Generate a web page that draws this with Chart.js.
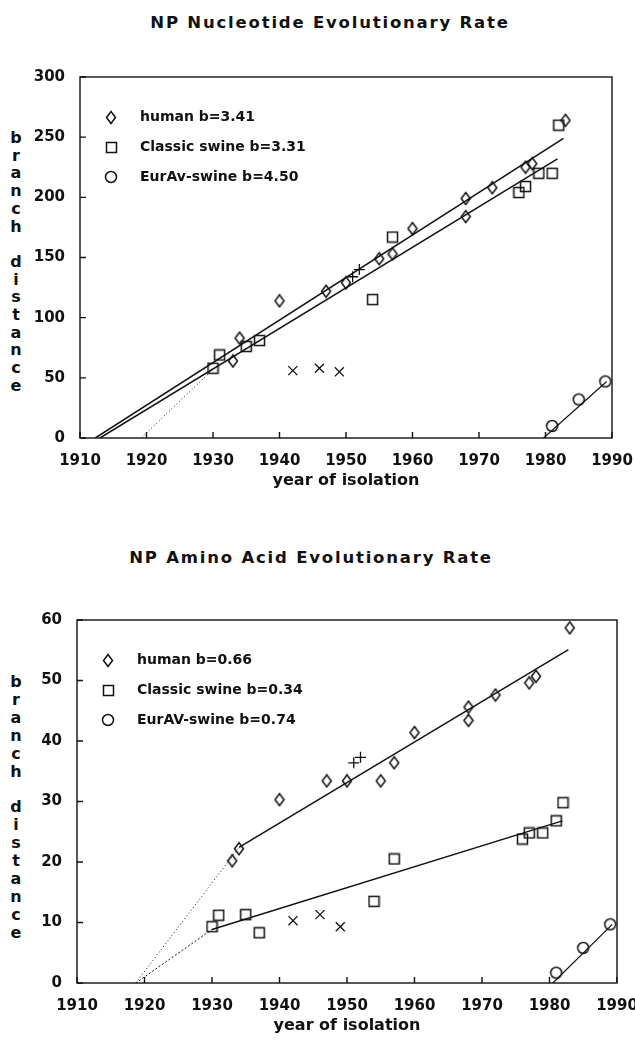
<!DOCTYPE html>
<html>
<head>
<meta charset="utf-8">
<script src="https://cdn.jsdelivr.net/npm/chart.js@4.4.1/dist/chart.umd.min.js"></script>
<style>
  html, body { margin: 0; padding: 0; background: #fff; }
  body { width: 635px; height: 1040px; position: relative; overflow: hidden; font-family: "DejaVu Sans", sans-serif; color: #111; }
  .box { position: absolute; left: 0; width: 635px; height: 520px; }
  .title { position: absolute; font-size: 16.5px; font-weight: bold; letter-spacing: 1.8px; white-space: nowrap; transform: translate(-50%, -50%); }
  .ylab { position: absolute; width: 20px; text-align: center; font-weight: bold; font-size: 16px; }
</style>
</head>
<body>

<div class="title" style="left:330px; top:22px">NP Nucleotide Evolutionary Rate</div>
<div class="ylab" style="left:6px; top:129px; line-height:17.7px">b<br>r<br>a<br>n<br>c<br>h<br>&nbsp;<br>d<br>i<br>s<br>t<br>a<br>n<br>c<br>e</div>
<div class="box" style="top:0"><canvas id="ntChart" width="635" height="520"></canvas></div>

<div class="title" style="left:311px; top:557px">NP Amino Acid Evolutionary Rate</div>
<div class="ylab" style="left:6px; top:673px; line-height:17.9px">b<br>r<br>a<br>n<br>c<br>h<br>&nbsp;<br>d<br>i<br>s<br>t<br>a<br>n<br>c<br>e</div>
<div class="box" style="top:520px"><canvas id="aaChart" width="635" height="520"></canvas></div>

<script>
/* -----------------------------
   NUCLEOTIDE DATA (top chart)
----------------------------- */
const ntHumanYear = [1933, 1934, 1940, 1947, 1950, 1955, 1957, 1960, 1968, 1968, 1972, 1977, 1978, 1983];
const ntHumanDist = [64, 83, 114, 122, 129, 149, 153, 174, 199, 184, 208, 225, 228, 264];
const ntSwineYear = [1930, 1931, 1935, 1937, 1954, 1957, 1976, 1977, 1979, 1981, 1982];
const ntSwineDist = [58, 69, 76, 81, 115, 167, 204, 209, 220, 220, 260];
const ntEurYear = [1981, 1985, 1989];
const ntEurDist = [10, 32, 47];
const ntCrossYear = [1942, 1946, 1949];
const ntCrossDist = [56, 58, 55];
const ntPlusYear = [1951, 1952];
const ntPlusDist = [134, 140];

// fitted lines, end points
const ntHumanFitYear = [1912.3, 1982.7];
const ntHumanFitDist = [0, 249];
const ntSwineFitYear = [1913, 1981.8];
const ntSwineFitDist = [0, 232];
const ntExtFitYear = [1919.2, 1930];
const ntExtFitDist = [0, 57];
const ntEurFitYear = [1979.7, 1989.2];
const ntEurFitDist = [0, 47];

const ntLabels = ["human b=3.41", "Classic swine b=3.31", "EurAv-swine b=4.50"];
const ntYTicks = [0, 300, 50];

/* -----------------------------
   AMINO ACID DATA (bottom chart)
----------------------------- */
const aaHumanYear = [1933, 1934, 1940, 1947, 1950, 1955, 1957, 1960, 1968, 1968, 1972, 1977, 1978, 1983];
const aaHumanDist = [20.2, 22.2, 30.3, 33.4, 33.4, 33.4, 36.4, 41.4, 45.6, 43.4, 47.6, 49.6, 50.7, 58.7];
const aaSwineYear = [1930, 1931, 1935, 1937, 1954, 1957, 1976, 1977, 1979, 1981, 1982];
const aaSwineDist = [9.3, 11.2, 11.3, 8.3, 13.5, 20.5, 23.8, 24.8, 24.8, 26.8, 29.8];
const aaEurYear = [1981, 1985, 1989];
const aaEurDist = [1.7, 5.8, 9.7];
const aaCrossYear = [1942, 1946, 1949];
const aaCrossDist = [10.3, 11.3, 9.3];
const aaPlusYear = [1951, 1952];
const aaPlusDist = [36.4, 37.3];

const aaHumanFitYear = [1934, 1982.8];
const aaHumanFitDist = [22.4, 55.1];
const aaHumanExtYear = [1918.7, 1934];
const aaHumanExtDist = [0, 22.4];
const aaSwineFitYear = [1930, 1981.9];
const aaSwineFitDist = [8.85, 26.8];
const aaSwineExtYear = [1918.7, 1930];
const aaSwineExtDist = [0, 8.85];
const aaEurFitYear = [1980.5, 1989.3];
const aaEurFitDist = [0, 9.7];

const aaLabels = ["human b=0.66", "Classic swine b=0.34", "EurAV-swine b=0.74"];
const aaYTicks = [0, 60, 10];

const xTicks = [1910, 1990, 10];

/* -----------------------------
   MARKERS
----------------------------- */
const INK = "#111";

function marker(w, h, draw) {
  const c = document.createElement("canvas");
  c.width = w; c.height = h;
  const g = c.getContext("2d");
  g.strokeStyle = INK;
  g.lineWidth = 1.5;
  g.beginPath();
  draw(g);
  g.stroke();
  return c;
}

const diamond = marker(12, 15, g => {
  g.moveTo(6, 1.5); g.lineTo(10.5, 7.5); g.lineTo(6, 13.5); g.lineTo(1.5, 7.5); g.closePath();
});
const square = marker(13, 13, g => g.rect(1.5, 1.5, 10, 10));
const circle = marker(14, 14, g => g.arc(7, 7, 5.5, 0, Math.PI * 2));

const pts = (xs, ys) => xs.map((x, i) => ({ x, y: ys[i] }));

function points(xs, ys, style, label) {
  return {
    label: label || "",
    data: pts(xs, ys),
    pointStyle: style,
    pointRadius: style === "crossRot" ? 6.4 : 5.5,
    borderColor: INK,
    borderWidth: 1.3,
    backgroundColor: "transparent",
    showLine: false
  };
}

function fit(xs, ys, dash, width) {
  return {
    data: pts(xs, ys),
    showLine: true,
    pointRadius: 0,
    borderColor: INK,
    borderWidth: width || 1.5,
    borderDash: dash || [],
    fill: false
  };
}

/* -----------------------------
   FRAME, INWARD TICKS, LEGEND
----------------------------- */
const framePlugin = {
  id: "frame",
  afterDatasetsDraw(chart) {
    const { ctx, chartArea: a, scales: { x, y } } = chart;
    ctx.save();
    ctx.strokeStyle = INK;
    ctx.lineWidth = 1.4;
    ctx.strokeRect(a.left, a.top, a.right - a.left, a.bottom - a.top);
    ctx.beginPath();
    x.ticks.forEach(t => {
      const px = x.getPixelForValue(t.value);
      ctx.moveTo(px, a.bottom); ctx.lineTo(px, a.bottom - 6);
    });
    y.ticks.forEach(t => {
      const py = y.getPixelForValue(t.value);
      ctx.moveTo(a.left, py); ctx.lineTo(a.left + 6, py);
    });
    ctx.stroke();

    // legend inside the plot, upper left
    ctx.fillStyle = INK;
    ctx.font = "bold 14px 'DejaVu Sans'";
    ctx.textBaseline = "middle";
    chart.data.datasets.slice(0, 3).forEach((ds, i) => {
      const cy = Math.round(a.top + 40 + i * 30);
      const m = ds.pointStyle;
      ctx.drawImage(m, Math.round(a.left + 31 - m.width / 2), Math.round(cy - m.height / 2));
      ctx.fillText(ds.label, a.left + 60, cy);
    });
    ctx.restore();
  }
};

function options(yTicks, pad) {
  return {
    responsive: false,
    animation: false,
    layout: { padding: pad },
    plugins: { legend: { display: false }, tooltip: { enabled: false } },
    scales: {
      x: {
        type: "linear",
        min: xTicks[0], max: xTicks[1],
        grid: { display: false },
        border: { display: false },
        ticks: {
          stepSize: xTicks[2],
          padding: 6,
          color: INK,
          font: { family: "DejaVu Sans", size: 15, weight: "bold" },
          callback: v => String(v)
        },
        title: {
          display: true,
          text: "year of isolation",
          color: INK,
          padding: { top: 0, bottom: 4 },
          font: { family: "DejaVu Sans", size: 16, weight: "bold" }
        },
        afterFit: s => { s.height = 56; s.paddingLeft = 0; s.paddingRight = 0; }
      },
      y: {
        min: yTicks[0], max: yTicks[1],
        grid: { display: false },
        border: { display: false },
        ticks: {
          stepSize: yTicks[2],
          padding: 7,
          color: INK,
          font: { family: "DejaVu Sans", size: 15, weight: "bold" }
        },
        afterFit: s => { s.width = pad.left0; }
      }
    }
  };
}

/* -------- NUCLEOTIDE CHART -------- */
new Chart(document.getElementById("ntChart"), {
  type: "scatter",
  data: {
    datasets: [
      points(ntHumanYear, ntHumanDist, diamond, ntLabels[0]),
      points(ntSwineYear, ntSwineDist, square, ntLabels[1]),
      points(ntEurYear, ntEurDist, circle, ntLabels[2]),
      points(ntCrossYear, ntCrossDist, "crossRot"),
      points(ntPlusYear, ntPlusDist, "cross"),
      fit(ntHumanFitYear, ntHumanFitDist),
      fit(ntSwineFitYear, ntSwineFitDist),
      fit(ntExtFitYear, ntExtFitDist, [1, 2.5], 1),
      fit(ntEurFitYear, ntEurFitDist, [], 1.2)
    ]
  },
  options: options(ntYTicks, { top: 77, right: 23, bottom: 26, left: 0, left0: 80 }),
  plugins: [framePlugin]
});

/* -------- AMINO ACID CHART -------- */
new Chart(document.getElementById("aaChart"), {
  type: "scatter",
  data: {
    datasets: [
      points(aaHumanYear, aaHumanDist, diamond, aaLabels[0]),
      points(aaSwineYear, aaSwineDist, square, aaLabels[1]),
      points(aaEurYear, aaEurDist, circle, aaLabels[2]),
      points(aaCrossYear, aaCrossDist, "crossRot"),
      points(aaPlusYear, aaPlusDist, "cross"),
      fit(aaHumanFitYear, aaHumanFitDist),
      fit(aaHumanExtYear, aaHumanExtDist, [1, 2.5], 1),
      fit(aaSwineFitYear, aaSwineFitDist),
      fit(aaSwineExtYear, aaSwineExtDist, [2, 2], 1),
      fit(aaEurFitYear, aaEurFitDist, [], 1.2)
    ]
  },
  options: options(aaYTicks, { top: 100, right: 18, bottom: 1, left: 0, left0: 77 }),
  plugins: [framePlugin]
});
</script>
</body>
</html>
